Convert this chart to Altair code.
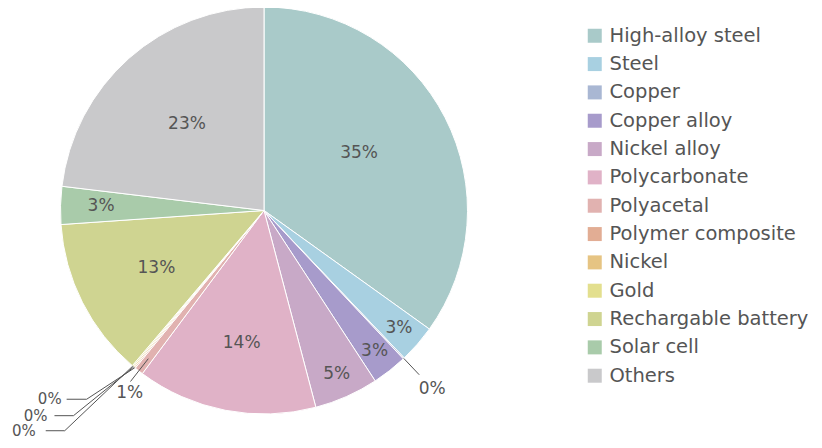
import altair as alt
import pandas as pd

# ---- data ----
categories = ["High-alloy steel", "Steel", "Copper", "Copper alloy", "Nickel alloy",
              "Polycarbonate", "Polyacetal", "Polymer composite", "Nickel", "Gold",
              "Rechargable battery", "Solar cell", "Others"]
shares = [34.9, 3.0, 0.1, 2.8, 5.1, 14.3, 0.7, 0.1, 0.1, 0.1, 12.7, 3.0, 23.1]
colors = ["#a9cac9", "#a8d0e1", "#a9b7d3", "#a79bcb", "#c8a9c7", "#e0b2c7", "#e1b2b0",
          "#e2ad94", "#e6c483", "#e3df8e", "#cfd491", "#a9cbaa", "#c9c9cb"]

# ---- label styling:
# (kind, label radius, label angle offset deg, leader start r, leader end r,
#  elbow angle offset deg, horizontal run, gap)
CX, CY, R = 256.0, 202.5, 203.5
label_style = {
    "High-alloy steel":    ("in", 111, -3.9, 0, 0, 0, 0, 0),
    "Steel":               ("in", 179, 0, 0, 0, 0, 0, 0),
    "Copper":              ("radial", 245, 0, R, 226, 0, 0, 0),
    "Copper alloy":        ("in", 179, 0, 0, 0, 0, 0, 0),
    "Nickel alloy":        ("in", 179, 0, 0, 0, 0, 0, 0),
    "Polycarbonate":       ("in", 134, -1.4, 0, 0, 0, 0, 0),
    "Polyacetal":          ("radial", 227, -1.7, 188, 217, 0, 0, 0),
    "Polymer composite":   ("elbow", 0, 0, R, 259, 3.8, 20, 5),
    "Nickel":              ("elbow", 0, 0, R, 280, 3.1, 19, 7),
    "Gold":                ("elbow", 0, 0, R, 297, 2.0, 19, 10),
    "Rechargable battery": ("in", 122, -1.3, 0, 0, 0, 0, 0),
    "Solar cell":          ("in", 163, 0, 0, 0, 0, 0, 0),
    "Others":              ("in", 116, 0, 0, 0, 0, 0, 0),
}

df = pd.DataFrame({"category": categories, "value": shares, "order": range(len(categories))})
cols = ["kind", "lr", "la", "l0", "l1", "ea", "hlen", "gap"]
for i, c in enumerate(cols):
    df[c] = [label_style[k][i] for k in categories]

FONT = "DejaVu Sans"
TXT = "#555555"

base = alt.Chart(df).transform_joinaggregate(
    total="sum(value)"
).transform_window(
    cum="sum(value)", sort=[alt.SortField("order")], frame=[None, 0]
).transform_calculate(
    mid="2*PI*(datum.cum - datum.value/2)/datum.total",
    pct="round(100*datum.value/datum.total) + '%'",
).transform_calculate(
    lx=f"{CX} + datum.lr*sin(datum.mid + datum.la*PI/180)",
    ly=f"{CY} - datum.lr*cos(datum.mid + datum.la*PI/180)",
    x0=f"{CX} + datum.l0*sin(datum.mid)",
    y0=f"{CY} - datum.l0*cos(datum.mid)",
    x1=f"{CX} + datum.l1*sin(datum.mid + datum.ea*PI/180)",
    y1=f"{CY} - datum.l1*cos(datum.mid + datum.ea*PI/180)",
).transform_calculate(
    x2="datum.x1 - datum.hlen",
    tx="datum.x1 - datum.hlen - datum.gap",
)

pie = alt.Chart(df).mark_arc(outerRadius=R, stroke="white", strokeWidth=1).encode(
    theta=alt.Theta("value:Q", stack=True),
    order=alt.Order("order:Q", sort="ascending"),
    color=alt.Color(
        "category:N",
        scale=alt.Scale(domain=categories, range=colors),
        legend=alt.Legend(
            title=None, orient="none", legendX=577, legendY=18,
            symbolType="square", symbolSize=196, symbolStrokeWidth=0,
            labelFont=FONT, labelFontSize=19.5, labelColor=TXT, labelOffset=5,
            rowPadding=7.33, padding=0, labelLimit=400,
        ),
    ),
    x=alt.value(CX),
    y=alt.value(CY),
)

xs = lambda f: alt.X(f, scale=None, axis=None)
ys = lambda f: alt.Y(f, scale=None, axis=None)

inside = base.transform_filter("datum.kind == 'in' || datum.kind == 'radial'").mark_text(
    font=FONT, fontSize=17, color=TXT, align="center", baseline="middle"
).encode(x=xs("lx:Q"), y=ys("ly:Q"), text="pct:N")

lead1 = base.transform_filter("datum.kind != 'in'").mark_rule(color=TXT, strokeWidth=1).encode(
    x=xs("x0:Q"), y=ys("y0:Q"), x2="x1:Q", y2="y1:Q"
)
lead2 = base.transform_filter("datum.kind == 'elbow'").mark_rule(color=TXT, strokeWidth=1).encode(
    x=xs("x1:Q"), y=ys("y1:Q"), x2="x2:Q", y2="y1:Q"
)
elbow_txt = base.transform_filter("datum.kind == 'elbow'").mark_text(
    font=FONT, fontSize=15, color=TXT, align="right", baseline="middle"
).encode(x=xs("tx:Q"), y=ys("y1:Q"), text="pct:N")

chart = alt.layer(pie, lead1, lead2, inside, elbow_txt).properties(
    width=806, height=432, padding=0, autosize=alt.AutoSizeParams(type="none")
).configure_view(stroke=None)

chart.save("out.html", embed_options={"renderer": "svg", "actions": False})
